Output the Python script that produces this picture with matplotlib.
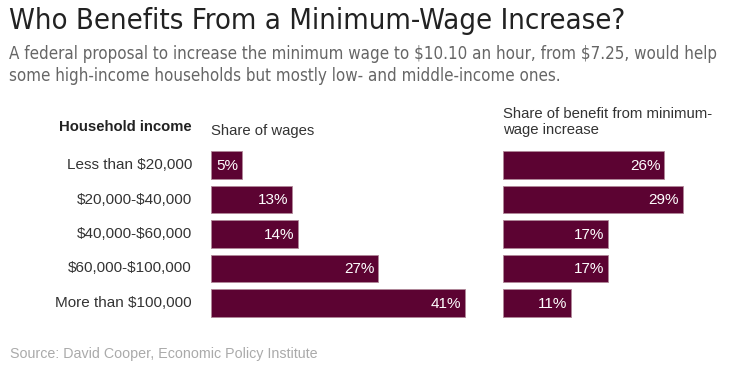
import matplotlib.pyplot as plt

plt.rcParams['text.parse_math'] = False

# Data
income_groups = ['Less than $20,000', '$20,000-$40,000', '$40,000-$60,000',
                 '$60,000-$100,000', 'More than $100,000']
share_of_wages = [5, 13, 14, 27, 41]
share_of_benefit = [26, 29, 17, 17, 11]

W, H = 729, 375
bar_color = '#5c0332'
body = ['Liberation Sans', 'DejaVu Sans']

fig = plt.figure(figsize=(W / 100, H / 100), dpi=100)


def px(x, y):
    return x / W, 1 - y / H


# axes placed in pixel space: 6.2 px per percentage point
bottom = 1 - 320.25 / H
height = (320.25 - 147.75) / H
ax1 = fig.add_axes([211 / W, bottom, 45 * 6.2 / W, height])
ax2 = fig.add_axes([503 / W, bottom, 35 * 6.2 / W, height])

ypos = list(range(len(income_groups)))
for ax, vals, xmax in [(ax1, share_of_wages, 45), (ax2, share_of_benefit, 35)]:
    ax.barh(ypos, vals, height=0.8, color=bar_color, edgecolor='#b08898', linewidth=0.6)
    for y, v in zip(ypos, vals):
        ax.text(v - 0.6, y + 0.02, f'{v}%', color='white', ha='right', va='center',
                fontsize=11, family=body)
    ax.set_xlim(0, xmax)
    ax.set_ylim(4.5, -0.5)
    ax.axis('off')

# row labels
for y, lab in zip(ypos, income_groups):
    yy = 165 + y * 34.5
    fig.text(*px(192, yy), lab, ha='right', va='center', fontsize=11,
             color='#333333', family=body)

fig.text(*px(192, 127), 'Household income', ha='right', va='center', fontsize=10.7,
         fontweight='bold', color='#222222', family=body)
fig.text(*px(211, 131), 'Share of wages', ha='left', va='center', fontsize=10.7,
         color='#333333', family=body)
fig.text(*px(503, 122), 'Share of benefit from minimum-\nwage increase', ha='left',
         va='center', fontsize=10.7, color='#333333', family=body, linespacing=1.1)

# title, subtitle, source
fig.text(*px(9, 21), 'Who Benefits From a Minimum-Wage Increase?', ha='left', va='center',
         fontsize=21, color='#222222', family='DejaVu Sans', fontstretch='condensed',
         fontweight='light')
fig.text(*px(9, 65), 'A federal proposal to increase the minimum wage to $10.10 an hour, from $7.25, would help\n'
         'some high-income households but mostly low- and middle-income ones.',
         ha='left', va='center', fontsize=12.2, color='#666666', family='DejaVu Sans',
         fontstretch='condensed', linespacing=1.25)
fig.text(*px(10, 354), 'Source: David Cooper, Economic Policy Institute', ha='left', va='center',
         fontsize=10.3, color='#aaaaaa', family=body)

fig.savefig('out.png', dpi=100)
